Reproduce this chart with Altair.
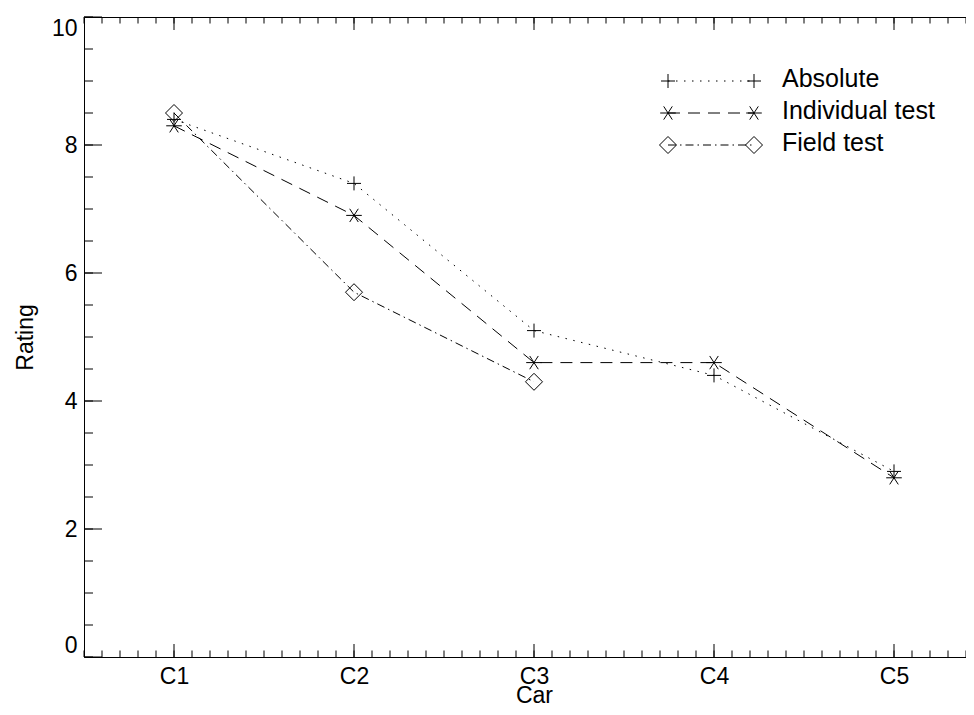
import altair as alt
import numpy as np
import pandas as pd

# ---- data ----
car_pos = [1, 2, 3, 4, 5]
car_labels = ["C1", "C2", "C3", "C4", "C5"]
series_names = ["Absolute", "Individual test", "Field test"]
absolute = [8.4, 7.4, 5.1, 4.4, 2.9]
individual = [8.3, 6.9, 4.6, 4.6, 2.8]
field = [8.5, 5.7, 4.3, None, None]
legend_rows = [9.0, 8.5, 8.0]

y_major = [0, 2, 4, 6, 8, 10]
y_minor = [round(v, 2) for v in np.arange(0, 10.01, 0.5)]
x_major = [1, 2, 3, 4, 5]
x_minor = [round(v, 2) for v in np.arange(0.5, 5.51, 0.1)]

FONT = "Liberation Sans"
W, H = 900, 640

rows = []
for name, vals in zip(series_names, [absolute, individual, field]):
    for c, v in zip(car_pos, vals):
        if v is not None:
            rows.append({"car": c, "value": v, "series": name})
df = pd.DataFrame(rows)
leg = pd.DataFrame({"series": series_names, "ly": legend_rows})

plus = "M-1,0L1,0M0,-1L0,1"
star = "M-1,0L1,0M-0.55,-0.85L0.55,0.85M-0.55,0.85L0.55,-0.85"
diamond = "M0,-1L1,0L0,1L-1,0Z"

xscale = alt.Scale(domain=[0.5, 5.5], nice=False, zero=False)
yscale = alt.Scale(domain=[0, 10], nice=False, zero=False)

dash = alt.StrokeDash("series:N", legend=None,
                      scale=alt.Scale(domain=series_names,
                                      range=[[1.5, 6.5], [12, 8], [8, 4, 1.5, 4]]))
shape = alt.Shape("series:N", legend=None,
                  scale=alt.Scale(domain=series_names, range=[plus, star, diamond]))
size = alt.Size("series:N", legend=None,
                scale=alt.Scale(domain=series_names, range=[196, 289, 169]))

xaxis = alt.Axis(values=x_major, labelExpr="'C' + datum.value", title="Car",
                 domain=False, ticks=False, grid=False, labelFont=FONT, labelFontSize=23,
                 labelColor="black", labelPadding=8, titleFont=FONT, titleFontSize=23,
                 titleFontWeight="normal", titleColor="black",
                 titleX=W / 2, titleY=45, titleBaseline="alphabetic")
yaxis = alt.Axis(values=y_major, title="Rating", domain=False, ticks=False, grid=False,
                 labelFont=FONT, labelFontSize=23, labelColor="black", labelPadding=7,
                 labelFlush=True, titleFont=FONT, titleFontSize=23,
                 titleFontWeight="normal", titleColor="black",
                 titleX=-52, titleY=H / 2, titleBaseline="alphabetic")


def X(field):
    return alt.X(field, scale=xscale, axis=xaxis)


def Y(field):
    return alt.Y(field, scale=yscale, axis=yaxis)


lines = alt.Chart(df).mark_line(color="black", strokeWidth=1).encode(
    x=X("car:Q"), y=Y("value:Q"), detail="series:N", strokeDash=dash,
)
points = alt.Chart(df).mark_point(color="black", filled=False, strokeWidth=1, opacity=1).encode(
    x=X("car:Q"), y=Y("value:Q"), shape=shape, size=size,
)

# ---- inward ticks ----
ymin_df = pd.DataFrame({"v": y_minor})
ymaj_df = pd.DataFrame({"v": y_major})
xmin_df = pd.DataFrame({"v": x_minor})
xmaj_df = pd.DataFrame({"v": x_major})


def yticks(d, length):
    left = alt.Chart(d).mark_rule(color="black", strokeWidth=1).encode(
        y=Y("v:Q"), x=alt.value(0), x2=alt.value(length))
    right = alt.Chart(d).mark_rule(color="black", strokeWidth=1).encode(
        y=Y("v:Q"), x=alt.value(W - length), x2=alt.value(W))
    return left + right


def xticks(d, length):
    bottom = alt.Chart(d).mark_rule(color="black", strokeWidth=1).encode(
        x=X("v:Q"), y=alt.value(H), y2=alt.value(H - length))
    top = alt.Chart(d).mark_rule(color="black", strokeWidth=1).encode(
        x=X("v:Q"), y=alt.value(0), y2=alt.value(length))
    return bottom + top


ticks = yticks(ymin_df, 9) + yticks(ymaj_df, 18) + xticks(xmin_df, 6.5) + xticks(xmaj_df, 13)

# ---- legend ----
LX1, LX2, LT = 584, 670, 698
leg_line = alt.Chart(leg).mark_rule(color="black", strokeWidth=1).encode(
    y=Y("ly:Q"), x=alt.value(LX1), x2=alt.value(LX2), strokeDash=dash)
leg_p1 = alt.Chart(leg).mark_point(color="black", filled=False, strokeWidth=1, opacity=1).encode(
    y=Y("ly:Q"), x=alt.value(LX1), shape=shape, size=size)
leg_p2 = alt.Chart(leg).mark_point(color="black", filled=False, strokeWidth=1, opacity=1).encode(
    y=Y("ly:Q"), x=alt.value(LX2), shape=shape, size=size)
leg_text = alt.Chart(leg).mark_text(align="left", baseline="middle", font=FONT,
                                    fontSize=25, color="black", dy=-2).encode(
    y=Y("ly:Q"), x=alt.value(LT), text="series:N")

chart = alt.layer(lines, points, ticks, leg_line, leg_p1, leg_p2, leg_text).properties(
    width=W, height=H,
    autosize=alt.AutoSizeParams(type="none"),
    padding={"left": 76, "top": 9, "right": -18, "bottom": 50},
    background="white",
).configure_view(stroke="black", strokeWidth=1)

chart.save("out.html", embed_options={"renderer": "svg", "actions": False})
